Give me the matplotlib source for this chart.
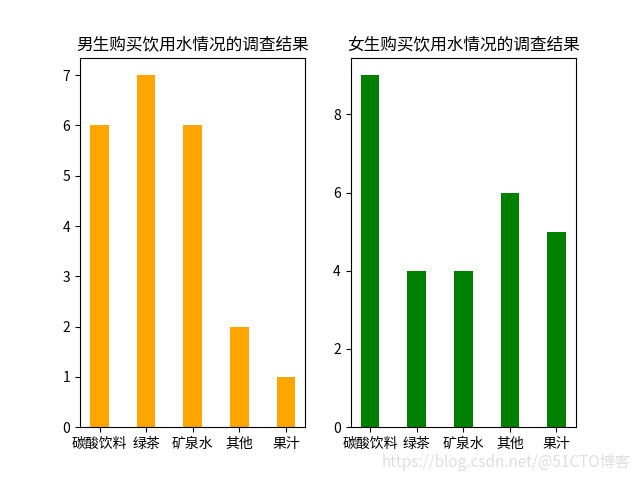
import matplotlib
matplotlib.use("Agg")
import matplotlib.pyplot as plt

plt.rcParams['font.family'] = ['Noto Sans CJK SC', 'DejaVu Sans']
plt.rcParams['axes.unicode_minus'] = False

# Survey data
drinks = ['碳酸饮料', '绿茶', '矿泉水', '其他', '果汁']
boys = [6, 7, 6, 2, 1]
girls = [9, 4, 4, 6, 5]

fig, (ax1, ax2) = plt.subplots(1, 2, figsize=(6.4, 4.8), dpi=100)

ax1.bar(drinks, boys, width=0.4, color='orange')
ax1.set_title('男生购买饮用水情况的调查结果')

ax2.bar(drinks, girls, width=0.4, color='green')
ax2.set_title('女生购买饮用水情况的调查结果')

# site watermark
fig.text(0.985, 0.036, 'https://blog.csdn.net/@51CTO博客', ha='right', va='center',
         fontsize=11, color='#dedede')

fig.savefig('out.png')
